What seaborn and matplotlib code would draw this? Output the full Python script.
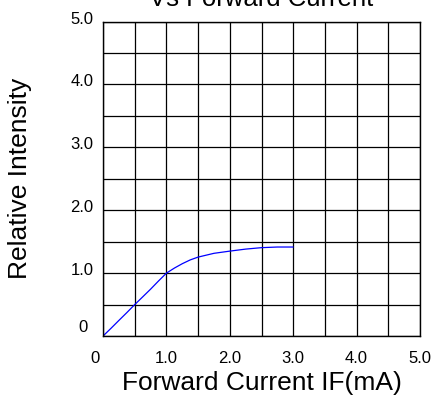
import numpy as np
import pandas as pd
import seaborn as sns
import matplotlib.pyplot as plt
from matplotlib.transforms import ScaledTranslation

# values
current = [0.0, 0.125, 0.25, 0.375, 0.5, 0.625, 0.75, 0.875, 1.0, 1.125, 1.25,
           1.375, 1.5, 1.75, 2.0, 2.25, 2.5, 2.75, 3.0]
intensity = [0.0, 0.122, 0.248, 0.372, 0.5, 0.622, 0.745, 0.875, 1.0, 1.08, 1.15,
             1.21, 1.255, 1.315, 1.35, 1.382, 1.405, 1.415, 1.415]
tick_vals = [0, 1, 2, 3, 4, 5]
tick_labels = ['0', '1.0', '2.0', '3.0', '4.0', '5.0']

df = pd.DataFrame({'current': current, 'intensity': intensity})

sns.set_style('white')
plt.rcParams['font.family'] = ['Liberation Sans', 'DejaVu Sans']
plt.rcParams['text.color'] = 'black'
plt.rcParams['axes.labelcolor'] = 'black'
plt.rcParams['xtick.color'] = 'black'
plt.rcParams['ytick.color'] = 'black'

fig = plt.figure(figsize=(4.33, 3.96), dpi=100)
ax = fig.add_axes([0.238, 0.1515, 0.732, 0.794])

sns.lineplot(data=df, x='current', y='intensity', color='#0000ff', linewidth=0.9, ax=ax)

ax.set_xlim(0, 5)
ax.set_ylim(0, 5)
ax.set_xticks(np.arange(0, 5.01, 0.5), minor=True)
ax.set_yticks(np.arange(0, 5.01, 0.5), minor=True)
ax.set_xticks(tick_vals)
ax.set_yticks(tick_vals)
ax.set_xticklabels(tick_labels)
ax.set_yticklabels(tick_labels)
ax.grid(which='both', color='black', linewidth=0.9)
ax.tick_params(which='both', length=0, labelsize=12)
ax.tick_params(axis='x', pad=11)
ax.tick_params(axis='y', pad=7)

# y labels sit just above their grid line; the two "0" labels are nudged off the corner
for lab in ax.get_yticklabels():
    lab.set_va('baseline')
    if lab.get_text() == '0':
        off = ScaledTranslation(-0.06, 0.04, fig.dpi_scale_trans)
    else:
        off = ScaledTranslation(0, -0.02, fig.dpi_scale_trans)
    lab.set_transform(lab.get_transform() + off)
x0 = ax.get_xticklabels()[0]
x0.set_transform(x0.get_transform() + ScaledTranslation(-0.08, 0, fig.dpi_scale_trans))

for s in ax.spines.values():
    s.set_color('black')
    s.set_linewidth(1.0)

ax.set_xlabel('Forward Current IF(mA)', fontsize=19, va='center')
ax.xaxis.set_label_coords(0.5, -0.148)
ax.set_ylabel('Relative Intensity', fontsize=19, va='center')
ax.yaxis.set_label_coords(-0.262, 0.5)
fig.text(261 / 433, 1 - 6 / 396, 'Vs Forward Current', fontsize=18.5,
         ha='center', va='baseline')

fig.savefig('out.png', dpi=100)
